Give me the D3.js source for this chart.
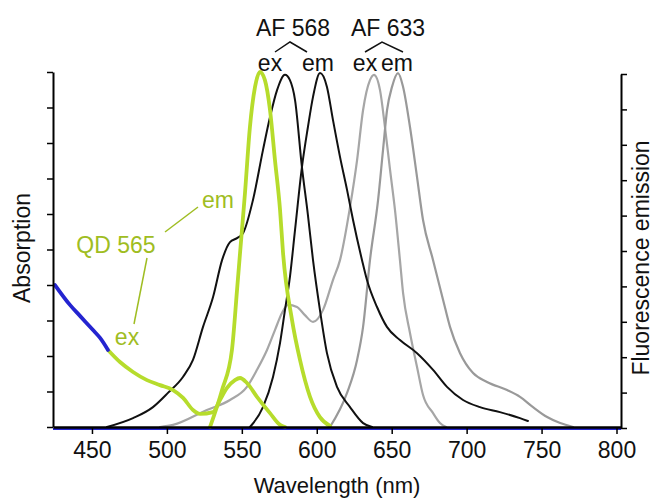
<!DOCTYPE html>
<html><head><meta charset="utf-8">
<script src="https://cdn.jsdelivr.net/npm/d3@7"></script>
<style>
html,body{margin:0;padding:0;background:#fff;}
svg{display:block;font-family:"Liberation Sans",Arial,Helvetica,sans-serif;}
</style></head>
<body><svg id="chart" width="662" height="498"></svg>
<script>
// ---- data (wavelength nm, relative intensity 0..1) ----
const xTicks = [450, 500, 550, 600, 650, 700, 750, 800];
const yTicks = [0, 0.1, 0.2, 0.3, 0.4, 0.5, 0.6, 0.7, 0.8, 0.9, 1.0];

const qdExBlue = [[425.3,0.40],[435.3,0.344],[442,0.313],[450.7,0.273],[455.4,0.251],[460.7,0.217]];
const qdExGreen = [[460.7,0.217],[468.7,0.183],[477.4,0.155],[486.7,0.132],[495.4,0.118],[504.1,0.104],[510.8,0.082],[517.4,0.048],[522.1,0.037],[530.8,0.042],[535.4,0.076],[540.1,0.11],[545.4,0.132],[548.8,0.138],[553.4,0.124],[560.1,0.085],[568.8,0.039],[575.5,0.006],[578.8,0]];
const qdEm = [[528.8,0],[536.8,0.104],[543.4,0.217],[546.8,0.386],[548.8,0.49],[552.1,0.659],[555.4,0.845],[558.8,0.958],[562.1,1.0],[565.4,0.977],[568.8,0.893],[572.1,0.752],[575.5,0.611],[577.5,0.49],[583.5,0.301],[588.8,0.189],[595.5,0.085],[602.1,0.028],[608.8,0.003]];
const af568Ex = [[460,0],[477.4,0.025],[490.7,0.056],[500.7,0.096],[510.7,0.141],[517.4,0.189],[524.1,0.282],[530.8,0.366],[536.8,0.47],[542.1,0.521],[546.8,0.532],[550.8,0.546],[557.4,0.639],[564.1,0.78],[568.8,0.873],[573.5,0.949],[578.8,0.992],[582.1,0.977],[585.5,0.921],[590.1,0.732],[594.1,0.597],[597.5,0.47],[602.1,0.33],[606.8,0.208],[613.5,0.113],[622.2,0.056],[630.9,0.011],[636.9,0]];
const af568Em = [[555.4,0],[564.1,0.056],[570.8,0.141],[575.5,0.237],[578.8,0.33],[582.1,0.423],[585.5,0.555],[590.1,0.732],[594.1,0.845],[597.5,0.93],[602.2,0.997],[606.8,0.958],[610.8,0.865],[615.5,0.761],[620.2,0.668],[624.2,0.583],[630.2,0.47],[633.5,0.414],[640.2,0.338],[646.8,0.282],[655.5,0.245],[666.9,0.208],[677.6,0.161],[686.9,0.113],[697.6,0.076],[708.9,0.056],[722.2,0.042],[735.6,0.025],[740.9,0.017]];
const af633Ex = [[495.4,0],[504.1,0.006],[526.7,0.048],[542.1,0.076],[553.4,0.113],[560.1,0.161],[566.8,0.217],[572.1,0.273],[576.8,0.321],[580.8,0.344],[586.8,0.338],[592.1,0.315],[597.5,0.296],[604.2,0.33],[610.8,0.414],[615.5,0.47],[622.2,0.62],[626.9,0.752],[630.9,0.893],[635.5,0.977],[638.2,0.992],[642.2,0.949],[645.5,0.845],[648.9,0.724],[652.2,0.611],[655.5,0.47],[657.6,0.377],[662.2,0.265],[666.9,0.169],[670.9,0.09],[677.6,0.039],[682.2,0.011],[686.3,0]];
const af633Em = [[608.8,0],[620.2,0.096],[626.9,0.189],[630.9,0.282],[635.5,0.47],[640.9,0.639],[644.2,0.78],[646.9,0.893],[650.2,0.958],[654.2,0.997],[657.6,0.958],[662.2,0.845],[666.9,0.704],[670.9,0.583],[677.6,0.47],[684.3,0.358],[688.9,0.282],[695.6,0.208],[704.3,0.152],[713.6,0.127],[727,0.104],[735.6,0.085],[744.3,0.056],[753.7,0.028],[762.4,0.011],[771,0]];

const svg = d3.select("#chart");
const x = d3.scaleLinear().domain([424, 803]).range([53, 621]);
const yL = d3.scaleLinear().domain([0, 1]).range([427, 72]);
const yR = d3.scaleLinear().domain([0, 1]).range([428, 74]);

const GREEN = "#b6dc2c", GREEN_TXT = "#9fbd22", BLUE = "#2424d0";

// blue baseline under axis
svg.append("line").attr("x1", x(424)).attr("x2", x(803)).attr("y1", 429).attr("y2", 429)
  .attr("stroke", BLUE).attr("stroke-width", 2);

const line = d3.line().x(d => x(d[0])).y(d => yL(d[1])).curve(d3.curveMonotoneX);

function draw(data, color, w) {
  svg.append("path").datum(data).attr("d", line).attr("fill", "none")
    .attr("stroke", color).attr("stroke-width", w).attr("stroke-linejoin", "round").attr("stroke-linecap", "round");
}
draw(af633Ex, "#a6a6a6", 2.2);
draw(af633Em, "#999", 2.2);
draw(af568Ex, "#111", 2);
draw(af568Em, "#111", 2);
draw(qdExGreen, GREEN, 3.8);
draw(qdEm, GREEN, 3.8);
draw(qdExBlue, BLUE, 3.8);

// axes
const gx = svg.append("g").attr("transform", "translate(0,427)")
  .call(d3.axisBottom(x).tickValues(xTicks).tickSize(7).tickSizeOuter(0).tickPadding(8));
gx.select(".domain").attr("stroke", "#000").attr("stroke-width", 2.5);
gx.selectAll(".tick line").attr("stroke", "#000").attr("stroke-width", 1.5);
gx.selectAll("text").attr("font-size", 23).attr("fill", "#111").attr("font-family", "Liberation Sans, Arial, sans-serif");

const gyl = svg.append("g").attr("transform", "translate(53,0)")
  .call(d3.axisLeft(yL).tickValues(yTicks).tickFormat("").tickSize(6).tickSizeOuter(0));
gyl.select(".domain").attr("stroke", "#000").attr("stroke-width", 2);
gyl.selectAll(".tick line").attr("stroke", "#000").attr("stroke-width", 1.5);

const gyr = svg.append("g").attr("transform", "translate(621,0)")
  .call(d3.axisRight(yR).tickValues(yTicks).tickFormat("").tickSize(6).tickSizeOuter(0));
gyr.select(".domain").attr("stroke", "#000").attr("stroke-width", 2);
gyr.selectAll(".tick line").attr("stroke", "#000").attr("stroke-width", 1.5);

// axis titles
svg.append("text").attr("x", 337).attr("y", 493).attr("text-anchor", "middle")
  .attr("font-size", 22).attr("fill", "#111").text("Wavelength (nm)");
svg.append("text").attr("transform", "translate(30,248) rotate(-90)").attr("text-anchor", "middle")
  .attr("font-size", 23).attr("fill", "#111").text("Absorption");
svg.append("text").attr("transform", "translate(649,258) rotate(-90)").attr("text-anchor", "middle")
  .attr("font-size", 23).attr("fill", "#111").text("Fluorescence emission");

// dye labels
function lab(tx, ty, t, col) {
  svg.append("text").attr("x", tx).attr("y", ty).attr("text-anchor", "middle")
    .attr("font-size", 23).attr("fill", col).text(t);
}
lab(293, 36, "AF 568", "#111");
lab(388, 36, "AF 633", "#111");
lab(270, 71, "ex", "#111");
lab(318, 71, "em", "#111");
lab(365, 71, "ex", "#111");
lab(397, 71, "em", "#111");
function caret(x1, xa, x2) {
  svg.append("path").attr("d", `M${x1},52 L${xa},42 L${x2},52`).attr("fill", "none")
    .attr("stroke", "#111").attr("stroke-width", 1.5);
}
caret(275, 290, 307);
caret(365, 382, 403);

lab(116, 253, "QD 565", GREEN_TXT);
lab(218, 208, "em", GREEN_TXT);
lab(127, 345, "ex", GREEN_TXT);
svg.append("line").attr("x1", 165).attr("y1", 232).attr("x2", 198).attr("y2", 207)
  .attr("stroke", GREEN_TXT).attr("stroke-width", 1.5);
svg.append("line").attr("x1", 147).attr("y1", 258).attr("x2", 134).attr("y2", 324)
  .attr("stroke", GREEN_TXT).attr("stroke-width", 1.5);
</script></body></html>
